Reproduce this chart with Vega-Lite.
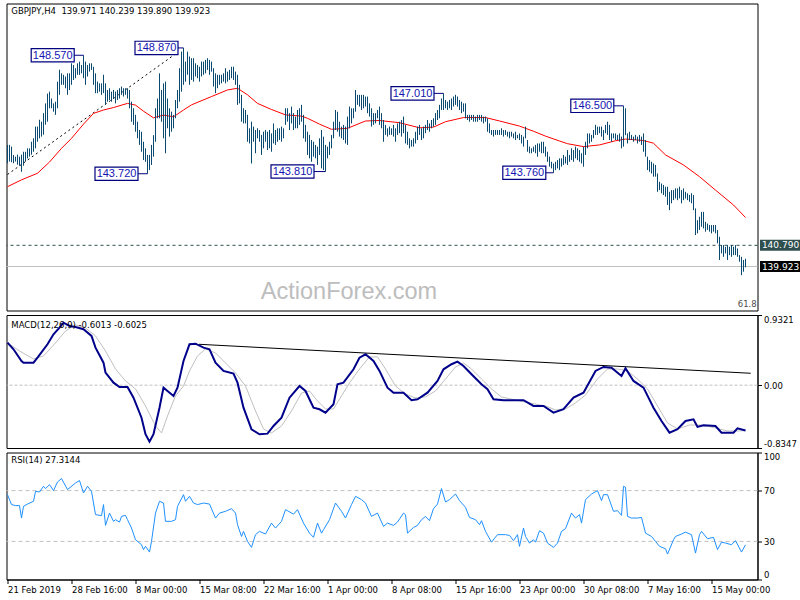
{
  "$schema": "https://vega.github.io/schema/vega-lite/v6.json",
  "padding": {"left": 2.5, "top": 2.5, "right": 0, "bottom": 0},
  "background": "white",
  "spacing": 4.5,
  "bounds": "flush",
  "config": {
    "view": {"stroke": "#000000", "strokeWidth": 1},
    "axis": {"labelFont": "DejaVu Sans", "labelFontSize": 8.5, "labelColor": "#000000", "domainColor": "#000000", "tickColor": "#000000", "tickSize": 4, "labelPadding": 2, "grid": false, "labelOverlap": false},
    "text": {"font": "DejaVu Sans"}
  },
  "datasets": {
    "bars": [
{"i":0,"h":144.90,"l":144.15},{"i":1,"h":144.90,"l":144.22},{"i":2,"h":144.83,"l":144.19},{"i":3,"h":144.49,"l":144.15},{"i":4,"h":144.42,"l":144.22},{"i":5,"h":144.50,"l":144.09},{"i":6,"h":144.42,"l":144.05},{"i":7,"h":144.50,"l":143.80},{"i":8,"h":144.62,"l":144.05},{"i":9,"h":144.62,"l":144.22},
{"i":10,"h":144.76,"l":144.35},{"i":11,"h":144.76,"l":144.42},{"i":12,"h":145.03,"l":144.50},{"i":13,"h":145.17,"l":144.62},{"i":14,"h":145.65,"l":144.76},{"i":15,"h":145.65,"l":145.03},{"i":16,"h":145.93,"l":145.17},{"i":17,"h":145.85,"l":145.24},{"i":18,"h":146.20,"l":145.32},{"i":19,"h":146.60,"l":145.73},
{"i":20,"h":147.00,"l":145.85},{"i":21,"h":147.08,"l":146.40},{"i":22,"h":146.80,"l":146.40},{"i":23,"h":146.60,"l":146.26},{"i":24,"h":146.67,"l":146.13},{"i":25,"h":147.49,"l":146.40},{"i":26,"h":147.98,"l":146.95},{"i":27,"h":147.83,"l":147.36},{"i":28,"h":147.77,"l":147.36},{"i":29,"h":147.70,"l":147.22},
{"i":30,"h":147.83,"l":146.95},{"i":31,"h":147.83,"l":147.15},{"i":32,"h":148.24,"l":147.36},{"i":33,"h":148.17,"l":147.56},{"i":34,"h":148.04,"l":147.63},{"i":35,"h":148.24,"l":147.77},{"i":36,"h":148.31,"l":147.77},{"i":37,"h":148.17,"l":147.83},{"i":38,"h":148.57,"l":147.63},{"i":39,"h":148.31,"l":147.36},
{"i":40,"h":148.17,"l":147.70},{"i":41,"h":148.24,"l":147.90},{"i":42,"h":148.24,"l":147.97},{"i":43,"h":148.10,"l":147.36},{"i":44,"h":147.83,"l":147.02},{"i":45,"h":147.49,"l":147.02},{"i":46,"h":147.42,"l":147.08},{"i":47,"h":147.42,"l":146.95},{"i":48,"h":147.77,"l":147.02},{"i":49,"h":147.42,"l":146.54},
{"i":50,"h":147.15,"l":146.67},{"i":51,"h":147.22,"l":146.74},{"i":52,"h":147.08,"l":146.67},{"i":53,"h":147.15,"l":146.80},{"i":54,"h":147.08,"l":146.60},{"i":55,"h":147.15,"l":146.74},{"i":56,"h":147.22,"l":146.80},{"i":57,"h":147.29,"l":146.95},{"i":58,"h":147.22,"l":146.88},{"i":59,"h":147.22,"l":146.95},
{"i":60,"h":147.22,"l":146.80},{"i":61,"h":147.15,"l":146.40},{"i":62,"h":146.67,"l":145.85},{"i":63,"h":146.40,"l":145.72},{"i":64,"h":146.13,"l":145.44},{"i":65,"h":145.85,"l":145.17},{"i":66,"h":145.51,"l":144.90},{"i":67,"h":145.44,"l":144.62},{"i":68,"h":145.03,"l":144.28},{"i":69,"h":144.76,"l":144.21},
{"i":70,"h":144.49,"l":143.72},{"i":71,"h":144.49,"l":143.87},{"i":72,"h":144.90,"l":144.08},{"i":73,"h":145.30,"l":144.42},{"i":74,"h":146.40,"l":145.03},{"i":75,"h":146.80,"l":145.99},{"i":76,"h":147.83,"l":145.99},{"i":77,"h":147.15,"l":145.85},{"i":78,"h":147.42,"l":145.17},{"i":79,"h":147.49,"l":144.56},
{"i":80,"h":146.80,"l":145.58},{"i":81,"h":146.40,"l":145.24},{"i":82,"h":146.26,"l":145.44},{"i":83,"h":146.13,"l":145.58},{"i":84,"h":146.74,"l":145.99},{"i":85,"h":147.15,"l":146.40},{"i":86,"h":148.04,"l":146.67},{"i":87,"h":148.72,"l":147.08},{"i":88,"h":148.87,"l":147.36},{"i":89,"h":148.31,"l":147.49},
{"i":90,"h":148.72,"l":147.77},{"i":91,"h":148.52,"l":147.36},{"i":92,"h":148.45,"l":147.56},{"i":93,"h":148.45,"l":147.49},{"i":94,"h":148.24,"l":147.70},{"i":95,"h":148.17,"l":147.63},{"i":96,"h":148.10,"l":147.49},{"i":97,"h":148.31,"l":147.70},{"i":98,"h":148.31,"l":147.77},{"i":99,"h":148.38,"l":147.83},
{"i":100,"h":148.45,"l":147.97},{"i":101,"h":148.38,"l":147.77},{"i":102,"h":148.31,"l":147.90},{"i":103,"h":148.04,"l":147.29},{"i":104,"h":147.83,"l":147.02},{"i":105,"h":147.77,"l":147.22},{"i":106,"h":147.77,"l":147.36},{"i":107,"h":147.77,"l":147.42},{"i":108,"h":147.83,"l":147.49},{"i":109,"h":148.04,"l":147.42},
{"i":110,"h":147.90,"l":147.49},{"i":111,"h":147.97,"l":147.56},{"i":112,"h":148.10,"l":147.63},{"i":113,"h":148.10,"l":147.56},{"i":114,"h":147.90,"l":147.36},{"i":115,"h":147.77,"l":146.54},{"i":116,"h":147.36,"l":146.60},{"i":117,"h":146.95,"l":145.85},{"i":118,"h":146.40,"l":145.78},{"i":119,"h":146.33,"l":145.78},
{"i":120,"h":146.13,"l":145.03},{"i":121,"h":145.58,"l":144.96},{"i":122,"h":145.85,"l":144.14},{"i":123,"h":145.65,"l":145.03},{"i":124,"h":145.51,"l":144.56},{"i":125,"h":145.58,"l":145.17},{"i":126,"h":145.51,"l":145.03},{"i":127,"h":145.31,"l":144.49},{"i":128,"h":145.44,"l":144.76},{"i":129,"h":145.51,"l":145.03},
{"i":130,"h":145.44,"l":144.69},{"i":131,"h":145.51,"l":144.76},{"i":132,"h":145.37,"l":144.62},{"i":133,"h":145.78,"l":144.96},{"i":134,"h":145.51,"l":144.90},{"i":135,"h":145.58,"l":145.03},{"i":136,"h":145.58,"l":145.10},{"i":137,"h":145.65,"l":145.03},{"i":138,"h":145.58,"l":145.17},{"i":139,"h":146.40,"l":145.72},
{"i":140,"h":146.40,"l":145.85},{"i":141,"h":146.20,"l":145.51},{"i":142,"h":146.47,"l":145.78},{"i":143,"h":146.20,"l":145.51},{"i":144,"h":146.06,"l":145.58},{"i":145,"h":146.33,"l":145.58},{"i":146,"h":146.40,"l":145.72},{"i":147,"h":146.54,"l":145.85},{"i":148,"h":146.13,"l":145.17},{"i":149,"h":145.72,"l":145.03},
{"i":150,"h":145.44,"l":144.49},{"i":151,"h":145.31,"l":144.35},{"i":152,"h":145.10,"l":144.21},{"i":153,"h":145.03,"l":144.42},{"i":154,"h":144.90,"l":144.35},{"i":155,"h":144.83,"l":144.08},{"i":156,"h":145.17,"l":144.49},{"i":157,"h":145.51,"l":143.94},{"i":158,"h":145.24,"l":143.87},{"i":159,"h":144.90,"l":143.81},
{"i":160,"h":144.83,"l":144.35},{"i":161,"h":145.03,"l":144.49},{"i":162,"h":145.31,"l":144.76},{"i":163,"h":145.85,"l":145.17},{"i":164,"h":146.33,"l":145.51},{"i":165,"h":146.26,"l":145.44},{"i":166,"h":145.85,"l":145.24},{"i":167,"h":145.65,"l":145.17},{"i":168,"h":145.72,"l":145.10},{"i":169,"h":145.65,"l":144.96},
{"i":170,"h":146.06,"l":144.90},{"i":171,"h":146.47,"l":145.58},{"i":172,"h":146.40,"l":145.78},{"i":173,"h":146.40,"l":145.99},{"i":174,"h":147.15,"l":146.26},{"i":175,"h":146.95,"l":146.54},{"i":176,"h":146.95,"l":146.47},{"i":177,"h":146.95,"l":146.33},{"i":178,"h":146.95,"l":146.40},{"i":179,"h":146.88,"l":146.47},
{"i":180,"h":146.88,"l":146.20},{"i":181,"h":146.60,"l":146.06},{"i":182,"h":146.40,"l":145.65},{"i":183,"h":146.20,"l":145.72},{"i":184,"h":146.20,"l":145.78},{"i":185,"h":146.33,"l":145.99},{"i":186,"h":146.47,"l":145.72},{"i":187,"h":146.20,"l":145.58},{"i":188,"h":145.92,"l":145.03},{"i":189,"h":145.72,"l":145.31},
{"i":190,"h":145.58,"l":145.24},{"i":191,"h":145.65,"l":145.31},{"i":192,"h":145.58,"l":145.31},{"i":193,"h":145.72,"l":145.24},{"i":194,"h":145.58,"l":145.03},{"i":195,"h":145.78,"l":145.31},{"i":196,"h":145.85,"l":145.38},{"i":197,"h":145.92,"l":145.24},{"i":198,"h":146.06,"l":145.38},{"i":199,"h":145.72,"l":144.96},
{"i":200,"h":145.44,"l":144.90},{"i":201,"h":145.17,"l":144.76},{"i":202,"h":145.10,"l":144.83},{"i":203,"h":145.17,"l":144.83},{"i":204,"h":145.44,"l":144.96},{"i":205,"h":145.65,"l":145.10},{"i":206,"h":145.72,"l":145.31},{"i":207,"h":145.58,"l":145.10},{"i":208,"h":145.65,"l":145.17},{"i":209,"h":145.72,"l":145.38},
{"i":210,"h":145.92,"l":145.51},{"i":211,"h":145.78,"l":145.44},{"i":212,"h":145.92,"l":145.58},{"i":213,"h":145.99,"l":145.65},{"i":214,"h":146.20,"l":145.72},{"i":215,"h":146.33,"l":145.92},{"i":216,"h":146.54,"l":145.99},{"i":217,"h":146.80,"l":146.33},{"i":218,"h":147.01,"l":146.33},{"i":219,"h":146.74,"l":146.40},
{"i":220,"h":146.67,"l":146.33},{"i":221,"h":146.74,"l":146.40},{"i":222,"h":146.80,"l":146.33},{"i":223,"h":146.88,"l":146.47},{"i":224,"h":146.95,"l":146.54},{"i":225,"h":146.88,"l":146.47},{"i":226,"h":146.74,"l":146.33},{"i":227,"h":146.67,"l":146.20},{"i":228,"h":146.60,"l":146.26},{"i":229,"h":146.60,"l":145.99},
{"i":230,"h":146.13,"l":145.92},{"i":231,"h":146.13,"l":145.85},{"i":232,"h":146.13,"l":145.92},{"i":233,"h":146.13,"l":145.85},{"i":234,"h":146.06,"l":145.85},{"i":235,"h":146.13,"l":145.85},{"i":236,"h":146.13,"l":145.92},{"i":237,"h":146.13,"l":145.85},{"i":238,"h":146.06,"l":145.78},{"i":239,"h":146.06,"l":145.85},
{"i":240,"h":145.99,"l":145.44},{"i":241,"h":145.78,"l":145.38},{"i":242,"h":145.51,"l":145.31},{"i":243,"h":145.51,"l":145.24},{"i":244,"h":145.51,"l":145.31},{"i":245,"h":145.51,"l":145.31},{"i":246,"h":145.51,"l":145.31},{"i":247,"h":145.58,"l":145.31},{"i":248,"h":145.51,"l":145.24},{"i":249,"h":145.51,"l":145.31},
{"i":250,"h":145.44,"l":145.24},{"i":251,"h":145.44,"l":145.17},{"i":252,"h":145.44,"l":145.24},{"i":253,"h":145.37,"l":145.17},{"i":254,"h":145.44,"l":145.10},{"i":255,"h":145.31,"l":145.17},{"i":256,"h":145.37,"l":145.10},{"i":257,"h":145.31,"l":144.96},{"i":258,"h":145.24,"l":144.83},{"i":259,"h":145.65,"l":145.17},
{"i":260,"h":145.10,"l":144.62},{"i":261,"h":144.83,"l":144.56},{"i":262,"h":144.76,"l":144.56},{"i":263,"h":144.83,"l":144.62},{"i":264,"h":144.90,"l":144.56},{"i":265,"h":144.96,"l":144.42},{"i":266,"h":144.96,"l":144.62},{"i":267,"h":145.03,"l":144.56},{"i":268,"h":145.03,"l":144.56},{"i":269,"h":144.83,"l":144.42},
{"i":270,"h":144.62,"l":144.21},{"i":271,"h":144.42,"l":144.01},{"i":272,"h":144.21,"l":143.94},{"i":273,"h":144.14,"l":143.76},{"i":274,"h":144.21,"l":143.87},{"i":275,"h":144.28,"l":143.94},{"i":276,"h":144.35,"l":143.87},{"i":277,"h":144.35,"l":144.01},{"i":278,"h":144.49,"l":144.08},{"i":279,"h":144.42,"l":144.14},
{"i":280,"h":144.69,"l":144.08},{"i":281,"h":144.49,"l":144.21},{"i":282,"h":144.76,"l":144.28},{"i":283,"h":144.69,"l":144.21},{"i":284,"h":144.83,"l":144.35},{"i":285,"h":144.76,"l":144.28},{"i":286,"h":144.69,"l":144.21},{"i":287,"h":144.56,"l":144.14},{"i":288,"h":144.83,"l":144.01},{"i":289,"h":145.03,"l":144.49},
{"i":290,"h":145.37,"l":144.76},{"i":291,"h":145.37,"l":144.96},{"i":292,"h":145.31,"l":145.03},{"i":293,"h":145.51,"l":145.17},{"i":294,"h":145.72,"l":145.31},{"i":295,"h":145.65,"l":145.31},{"i":296,"h":145.65,"l":145.38},{"i":297,"h":145.65,"l":145.24},{"i":298,"h":145.51,"l":145.10},{"i":299,"h":145.72,"l":145.38},
{"i":300,"h":145.85,"l":145.31},{"i":301,"h":145.72,"l":145.10},{"i":302,"h":145.37,"l":145.03},{"i":303,"h":145.37,"l":145.17},{"i":304,"h":145.37,"l":145.10},{"i":305,"h":145.31,"l":145.10},{"i":306,"h":145.37,"l":145.03},{"i":307,"h":145.24,"l":144.76},{"i":308,"h":146.50,"l":144.83},{"i":309,"h":146.40,"l":145.30},
{"i":310,"h":145.37,"l":144.96},{"i":311,"h":145.44,"l":145.10},{"i":312,"h":145.31,"l":145.10},{"i":313,"h":145.24,"l":145.03},{"i":314,"h":145.31,"l":145.10},{"i":315,"h":145.24,"l":144.96},{"i":316,"h":145.31,"l":145.03},{"i":317,"h":145.24,"l":144.90},{"i":318,"h":145.37,"l":144.62},{"i":319,"h":145.10,"l":144.42},
{"i":320,"h":144.42,"l":143.87},{"i":321,"h":144.28,"l":143.80},{"i":322,"h":144.21,"l":143.73},{"i":323,"h":144.14,"l":143.60},{"i":324,"h":144.08,"l":143.60},{"i":325,"h":143.73,"l":142.98},{"i":326,"h":143.39,"l":143.05},{"i":327,"h":143.32,"l":142.92},{"i":328,"h":143.26,"l":142.85},{"i":329,"h":143.19,"l":142.78},
{"i":330,"h":143.19,"l":142.44},{"i":331,"h":142.98,"l":142.23},{"i":332,"h":143.05,"l":142.51},{"i":333,"h":143.05,"l":142.64},{"i":334,"h":143.12,"l":142.71},{"i":335,"h":143.12,"l":142.64},{"i":336,"h":143.19,"l":142.71},{"i":337,"h":143.05,"l":142.51},{"i":338,"h":143.12,"l":142.64},{"i":339,"h":142.98,"l":142.71},
{"i":340,"h":142.92,"l":142.64},{"i":341,"h":142.85,"l":142.57},{"i":342,"h":142.92,"l":142.51},{"i":343,"h":142.85,"l":142.23},{"i":344,"h":142.30,"l":141.21},{"i":345,"h":141.82,"l":141.28},{"i":346,"h":141.96,"l":141.42},{"i":347,"h":142.16,"l":141.55},{"i":348,"h":142.16,"l":141.48},{"i":349,"h":141.75,"l":141.35},
{"i":350,"h":141.68,"l":141.42},{"i":351,"h":141.62,"l":141.35},{"i":352,"h":141.62,"l":141.28},{"i":353,"h":141.62,"l":141.35},{"i":354,"h":141.62,"l":141.28},{"i":355,"h":141.42,"l":140.87},{"i":356,"h":141.14,"l":140.19},{"i":357,"h":140.80,"l":140.46},{"i":358,"h":140.80,"l":140.32},{"i":359,"h":140.73,"l":140.46},
{"i":360,"h":140.80,"l":140.19},{"i":361,"h":140.73,"l":140.39},{"i":362,"h":140.80,"l":140.32},{"i":363,"h":140.73,"l":140.39},{"i":364,"h":140.80,"l":140.39},{"i":365,"h":140.66,"l":140.32},{"i":366,"h":140.39,"l":140.12},{"i":367,"h":140.32,"l":139.57},{"i":368,"h":140.19,"l":139.71},{"i":369,"h":140.24,"l":139.89}
    ],
    "ma": [
{"i":0,"p":143.19},{"i":7,"p":143.47},{"i":15,"p":143.74},{"i":21,"p":144.2},{"i":27,"p":144.76},{"i":32,"p":145.17},{"i":38,"p":145.75},{"i":43,"p":146.19},{"i":48,"p":146.33},{"i":53,"p":146.43},{"i":60,"p":146.6},{"i":64,"p":146.53},{"i":68,"p":146.28},{"i":73,"p":146.01},{"i":78,"p":146.12},{"i":83,"p":146.05},{"i":88,"p":146.33},{"i":92,"p":146.54},{"i":102,"p":146.88},{"i":110,"p":147.15},{"i":115,"p":147.22},{"i":120,"p":146.95},{"i":125,"p":146.6},{"i":132,"p":146.35},{"i":139,"p":146.13},{"i":147,"p":146.08},{"i":150,"p":145.99},{"i":156,"p":145.75},{"i":162,"p":145.54},{"i":170,"p":145.58},{"i":179,"p":145.88},{"i":186,"p":145.9},{"i":196,"p":145.81},{"i":206,"p":145.6},{"i":213,"p":145.63},{"i":219,"p":145.85},{"i":228,"p":146.02},{"i":239,"p":146.02},{"i":246,"p":145.88},{"i":256,"p":145.67},{"i":263,"p":145.46},{"i":269,"p":145.26},{"i":276,"p":145.06},{"i":280,"p":144.95},{"i":288,"p":144.83},{"i":296,"p":144.9},{"i":304,"p":145.07},{"i":309,"p":145.14},{"i":318,"p":145.08},{"i":323,"p":144.97},{"i":329,"p":144.49},{"i":338,"p":144.08},{"i":346,"p":143.6},{"i":354,"p":143.05},{"i":363,"p":142.44},{"i":369,"p":141.93}
    ],
    "macd": [
{"i":0,"v":0.565},{"i":3,"v":0.477},{"i":7,"v":0.321},{"i":8,"v":0.299},{"i":13,"v":0.299},{"i":15,"v":0.365},{"i":20,"v":0.543},{"i":23,"v":0.676},{"i":26,"v":0.764},{"i":28,"v":0.83},{"i":31,"v":0.786},{"i":34,"v":0.773},{"i":38,"v":0.743},{"i":42,"v":0.654},{"i":44,"v":0.498},{"i":48,"v":0.299},{"i":49,"v":0.166},{"i":53,"v":0.033},{"i":56,"v":-0.024},{"i":60,"v":-0.024},{"i":63,"v":-0.166},{"i":67,"v":-0.432},{"i":69,"v":-0.652},{"i":71,"v":-0.751},{"i":73,"v":-0.652},{"i":76,"v":-0.299},{"i":78,"v":-0.033},{"i":80,"v":-0.077},{"i":83,"v":-0.143},{"i":85,"v":-0.033},{"i":88,"v":0.321},{"i":91,"v":0.543},{"i":94,"v":0.551},{"i":98,"v":0.498},{"i":101,"v":0.477},{"i":104,"v":0.299},{"i":108,"v":0.189},{"i":113,"v":0.153},{"i":115,"v":0.033},{"i":118,"v":-0.299},{"i":122,"v":-0.586},{"i":126,"v":-0.652},{"i":130,"v":-0.644},{"i":133,"v":-0.542},{"i":137,"v":-0.432},{"i":141,"v":-0.166},{"i":146,"v":-0.011},{"i":149,"v":-0.077},{"i":153,"v":-0.299},{"i":156,"v":-0.32},{"i":159,"v":-0.365},{"i":163,"v":-0.254},{"i":165,"v":0.012},{"i":168,"v":0.033},{"i":173,"v":0.211},{"i":176,"v":0.365},{"i":179,"v":0.41},{"i":183,"v":0.321},{"i":186,"v":0.189},{"i":190,"v":-0.033},{"i":193,"v":-0.1},{"i":198,"v":-0.1},{"i":202,"v":-0.2},{"i":205,"v":-0.187},{"i":210,"v":-0.1},{"i":215,"v":0.056},{"i":218,"v":0.211},{"i":222,"v":0.278},{"i":225,"v":0.312},{"i":228,"v":0.255},{"i":232,"v":0.145},{"i":237,"v":0.012},{"i":240,"v":-0.054},{"i":243,"v":-0.187},{"i":248,"v":-0.2},{"i":258,"v":-0.2},{"i":263,"v":-0.276},{"i":268,"v":-0.276},{"i":273,"v":-0.365},{"i":278,"v":-0.32},{"i":283,"v":-0.166},{"i":288,"v":-0.1},{"i":294,"v":0.189},{"i":298,"v":0.242},{"i":302,"v":0.232},{"i":307,"v":0.122},{"i":309,"v":0.224},{"i":313,"v":0.056},{"i":318,"v":-0.033},{"i":323,"v":-0.299},{"i":327,"v":-0.476},{"i":331,"v":-0.631},{"i":335,"v":-0.586},{"i":339,"v":-0.476},{"i":343,"v":-0.453},{"i":345,"v":-0.555},{"i":348,"v":-0.533},{"i":354,"v":-0.542},{"i":357,"v":-0.631},{"i":363,"v":-0.631},{"i":365,"v":-0.573},{"i":369,"v":-0.6013}
    ],
    "sig": [
{"i":0,"v":0.561},{"i":6,"v":0.454},{"i":13,"v":0.348},{"i":18,"v":0.388},{"i":24,"v":0.561},{"i":29,"v":0.72},{"i":34,"v":0.8},{"i":39,"v":0.76},{"i":44,"v":0.654},{"i":49,"v":0.454},{"i":54,"v":0.215},{"i":59,"v":0.056},{"i":64,"v":-0.05},{"i":69,"v":-0.276},{"i":74,"v":-0.542},{"i":77,"v":-0.635},{"i":80,"v":-0.409},{"i":84,"v":-0.143},{"i":88,"v":-0.011},{"i":91,"v":0.189},{"i":95,"v":0.388},{"i":99,"v":0.481},{"i":104,"v":0.428},{"i":109,"v":0.295},{"i":114,"v":0.162},{"i":119,"v":-0.011},{"i":124,"v":-0.343},{"i":128,"v":-0.582},{"i":132,"v":-0.635},{"i":137,"v":-0.542},{"i":142,"v":-0.343},{"i":147,"v":-0.104},{"i":151,"v":-0.077},{"i":155,"v":-0.21},{"i":159,"v":-0.316},{"i":163,"v":-0.316},{"i":167,"v":-0.143},{"i":171,"v":0.029},{"i":176,"v":0.215},{"i":181,"v":0.375},{"i":185,"v":0.375},{"i":189,"v":0.215},{"i":194,"v":-0.011},{"i":199,"v":-0.117},{"i":204,"v":-0.17},{"i":209,"v":-0.157},{"i":214,"v":-0.077},{"i":219,"v":0.082},{"i":224,"v":0.242},{"i":228,"v":0.295},{"i":232,"v":0.215},{"i":237,"v":0.082},{"i":242,"v":-0.05},{"i":247,"v":-0.157},{"i":254,"v":-0.197},{"i":261,"v":-0.236},{"i":269,"v":-0.276},{"i":274,"v":-0.329},{"i":279,"v":-0.316},{"i":284,"v":-0.236},{"i":289,"v":-0.13},{"i":295,"v":0.082},{"i":300,"v":0.215},{"i":305,"v":0.215},{"i":310,"v":0.189},{"i":315,"v":0.082},{"i":320,"v":-0.05},{"i":325,"v":-0.276},{"i":330,"v":-0.502},{"i":335,"v":-0.582},{"i":341,"v":-0.529},{"i":347,"v":-0.529},{"i":354,"v":-0.569},{"i":360,"v":-0.608},{"i":366,"v":-0.608},{"i":369,"v":-0.6025}
    ],
    "rsi": [
{"i":0,"v":66.8},{"i":2,"v":59},{"i":4,"v":58.2},{"i":6,"v":58.2},{"i":7,"v":48.4},{"i":8,"v":57.6},{"i":10,"v":59.4},{"i":13,"v":61.6},{"i":14,"v":69.4},{"i":16,"v":68.9},{"i":18,"v":73.4},{"i":19,"v":71.6},{"i":21,"v":74.7},{"i":23,"v":70},{"i":25,"v":76.8},{"i":27,"v":79.5},{"i":30,"v":70.8},{"i":34,"v":76},{"i":36,"v":77.9},{"i":38,"v":68.1},{"i":40,"v":73.4},{"i":42,"v":69.4},{"i":44,"v":51.1},{"i":47,"v":50.3},{"i":48,"v":59},{"i":49,"v":42.6},{"i":51,"v":52.3},{"i":53,"v":45.8},{"i":54,"v":47.1},{"i":56,"v":45.2},{"i":57,"v":49.7},{"i":59,"v":50.5},{"i":60,"v":47.1},{"i":62,"v":40.5},{"i":64,"v":31.3},{"i":67,"v":27.4},{"i":68,"v":23.5},{"i":69,"v":26.1},{"i":71,"v":21.6},{"i":72,"v":30},{"i":74,"v":52.3},{"i":76,"v":61.6},{"i":78,"v":60.2},{"i":79,"v":45.8},{"i":82,"v":45.8},{"i":84,"v":47.1},{"i":85,"v":57.6},{"i":88,"v":66.8},{"i":89,"v":61.6},{"i":91,"v":65.5},{"i":93,"v":60.2},{"i":95,"v":59},{"i":98,"v":60.2},{"i":101,"v":59.4},{"i":104,"v":48.4},{"i":106,"v":52.3},{"i":109,"v":53.7},{"i":112,"v":55.8},{"i":114,"v":52.3},{"i":115,"v":43.2},{"i":117,"v":33.9},{"i":118,"v":37.9},{"i":120,"v":30},{"i":122,"v":25.3},{"i":124,"v":35.3},{"i":126,"v":37.9},{"i":129,"v":35.8},{"i":132,"v":44.4},{"i":134,"v":40.5},{"i":137,"v":45.8},{"i":139,"v":55},{"i":143,"v":51.5},{"i":145,"v":55},{"i":148,"v":44.4},{"i":151,"v":36.5},{"i":153,"v":33.2},{"i":155,"v":44.4},{"i":157,"v":36.5},{"i":158,"v":39.2},{"i":161,"v":47.1},{"i":164,"v":60.2},{"i":167,"v":53.7},{"i":169,"v":48.4},{"i":172,"v":59},{"i":174,"v":65.5},{"i":177,"v":62.9},{"i":179,"v":60.2},{"i":182,"v":49.7},{"i":185,"v":52.3},{"i":188,"v":41.8},{"i":190,"v":44.4},{"i":193,"v":42.6},{"i":195,"v":45.2},{"i":198,"v":52.3},{"i":199,"v":51},{"i":200,"v":36.5},{"i":203,"v":41},{"i":205,"v":42.6},{"i":207,"v":47.1},{"i":209,"v":49.7},{"i":211,"v":46.3},{"i":213,"v":55.8},{"i":215,"v":59.4},{"i":217,"v":71.6},{"i":219,"v":61},{"i":221,"v":62.9},{"i":224,"v":67.3},{"i":226,"v":62.1},{"i":229,"v":56.8},{"i":231,"v":48.9},{"i":234,"v":47.1},{"i":236,"v":43.2},{"i":237,"v":46.3},{"i":239,"v":37.9},{"i":242,"v":29.4},{"i":245,"v":35.3},{"i":249,"v":35.3},{"i":251,"v":34.7},{"i":253,"v":30.6},{"i":255,"v":35.3},{"i":256,"v":26.1},{"i":258,"v":40.5},{"i":259,"v":33.9},{"i":261,"v":28.7},{"i":263,"v":31.3},{"i":264,"v":29.4},{"i":266,"v":38.4},{"i":268,"v":36.5},{"i":270,"v":28.7},{"i":273,"v":25.3},{"i":275,"v":28.7},{"i":277,"v":37.9},{"i":279,"v":40},{"i":282,"v":52.3},{"i":284,"v":48.4},{"i":286,"v":51.1},{"i":287,"v":44.4},{"i":289,"v":62.9},{"i":292,"v":67.3},{"i":295,"v":70},{"i":297,"v":62.1},{"i":298,"v":66.8},{"i":300,"v":66.8},{"i":303,"v":53.7},{"i":305,"v":54.2},{"i":307,"v":50.5},{"i":308,"v":73.4},{"i":309,"v":72.6},{"i":310,"v":49.7},{"i":312,"v":48.4},{"i":315,"v":48.4},{"i":317,"v":48.9},{"i":319,"v":36.5},{"i":322,"v":33.9},{"i":324,"v":30},{"i":326,"v":26.1},{"i":329,"v":24.2},{"i":330,"v":20},{"i":333,"v":31.3},{"i":334,"v":33.9},{"i":337,"v":35.8},{"i":339,"v":37.3},{"i":342,"v":35.3},{"i":344,"v":20.8},{"i":346,"v":35.3},{"i":347,"v":37.9},{"i":350,"v":32.1},{"i":353,"v":33.2},{"i":355,"v":23.5},{"i":357,"v":29.4},{"i":359,"v":28.7},{"i":362,"v":27.4},{"i":364,"v":30.6},{"i":367,"v":21.6},{"i":369,"v":27.3144}
    ],
    "notes": [
{"i":22.6,"p":148.57,"b":38,"t":"148.570"},{"i":74.5,"p":148.87,"b":88,"t":"148.870"},{"i":54.5,"p":143.72,"b":70,"t":"143.720"},{"i":142.5,"p":143.81,"b":159,"t":"143.810"},{"i":202.5,"p":147.01,"b":218,"t":"147.010"},{"i":258.4,"p":143.76,"b":273,"t":"143.760"},{"i":292.4,"p":146.5,"b":308,"t":"146.500"}
    ],
    "tags": [{"p":140.79,"t":"140.790","k":"level"},{"p":139.923,"t":"139.923","k":"bid"}],
    "trend1": [{"i":0,"p":143.69},{"i":85.25,"p":148.7}],
    "trend2": [{"i":95.75,"v":0.543},{"i":371.6,"v":0.158}]
  },
  "vconcat": [
    {
      "width": 751,
      "height": 307,
      "layer": [
        {
          "data": {"values": [{"t": "ActionForex.com"}]},
          "mark": {"type": "text", "font": "Liberation Sans", "fontSize": 23.5, "color": "#BDBDBD", "align": "center", "baseline": "alphabetic"},
          "encoding": {
            "x": {"datum": 170.75, "type": "quantitative", "scale": {"domain": [-0.5, 375], "nice": false, "zero": false}, "axis": null},
            "y": {"datum": 138.59, "type": "quantitative", "scale": {"domain": [138.122, 150.689], "nice": false, "zero": false}, "axis": null},
            "text": {"field": "t"}
          }
        },
        {
          "data": {"values": [{"t": "61.8"}]},
          "mark": {"type": "text", "fontSize": 8.5, "color": "#4D4D4D", "align": "right", "baseline": "middle"},
          "encoding": {
            "x": {"datum": 374.6, "type": "quantitative", "axis": null},
            "y": {"datum": 138.4, "type": "quantitative", "axis": null},
            "text": {"field": "t"}
          }
        },
        {
          "data": {"values": [{"p": 140.79}]},
          "mark": {"type": "rule", "color": "#2F4F4F", "strokeDash": [3, 3], "strokeWidth": 1},
          "encoding": {"y": {"field": "p", "type": "quantitative", "axis": null}}
        },
        {
          "data": {"values": [{"p": 139.923}]},
          "mark": {"type": "rule", "color": "#C0C0C0", "strokeWidth": 1},
          "encoding": {"y": {"field": "p", "type": "quantitative", "axis": null}}
        },
        {
          "data": {"name": "trend1"},
          "mark": {"type": "line", "color": "#000000", "strokeWidth": 1, "strokeDash": [2, 3]},
          "encoding": {
            "x": {"field": "i", "type": "quantitative", "axis": null},
            "y": {"field": "p", "type": "quantitative", "axis": null}
          }
        },
        {
          "data": {"name": "ma"},
          "mark": {"type": "line", "color": "#FF0000", "strokeWidth": 1},
          "encoding": {
            "x": {"field": "i", "type": "quantitative", "axis": null},
            "y": {"field": "p", "type": "quantitative", "axis": null}
          }
        },
        {
          "data": {"name": "bars"},
          "mark": {"type": "rule", "color": "#0B4A70", "strokeWidth": 1},
          "encoding": {
            "x": {"field": "i", "type": "quantitative", "scale": {"domain": [-0.5, 375], "nice": false, "zero": false}, "axis": null},
            "y": {"field": "l", "type": "quantitative", "scale": {"domain": [138.122, 150.689], "nice": false, "zero": false},
                  "axis": {"orient": "right", "values": [150.3, 148.94, 147.58, 146.26, 144.9, 143.54, 142.18, 139.46, 138.1], "format": ".3f", "title": null, "labelFlush": false}},
            "y2": {"field": "h"}
          }
        },
        {
          "data": {"name": "notes"},
          "mark": {"type": "rule", "color": "#000080", "strokeWidth": 1},
          "encoding": {
            "x": {"field": "i", "type": "quantitative", "axis": null},
            "x2": {"field": "b"},
            "y": {"field": "p", "type": "quantitative", "axis": null}
          }
        },
        {
          "data": {"name": "notes"},
          "mark": {"type": "point", "shape": "M-1,-0.31H1V0.31H-1Z", "size": 1849, "filled": true, "fill": "#FFFFFF", "stroke": "#000080", "strokeWidth": 1.2, "opacity": 1, "fillOpacity": 1, "strokeOpacity": 1},
          "encoding": {
            "x": {"field": "i", "type": "quantitative", "axis": null},
            "y": {"field": "p", "type": "quantitative", "axis": null}
          }
        },
        {
          "data": {"name": "notes"},
          "mark": {"type": "text", "font": "Liberation Sans", "fontSize": 11, "color": "#1414B4", "align": "center", "baseline": "middle", "dy": 0.5},
          "encoding": {
            "x": {"field": "i", "type": "quantitative", "axis": null},
            "y": {"field": "p", "type": "quantitative", "axis": null},
            "text": {"field": "t"}
          }
        },
        {
          "data": {"name": "tags"},
          "mark": {"type": "point", "shape": "M-1,-0.27H1V0.27H-1Z", "size": 1681, "filled": true, "opacity": 1, "fillOpacity": 1, "clip": false},
          "encoding": {
            "x": {"datum": 386.5, "type": "quantitative", "axis": null},
            "y": {"field": "p", "type": "quantitative", "axis": null},
            "color": {"field": "k", "type": "nominal", "scale": {"domain": ["level", "bid"], "range": ["#2F4F4F", "#000000"]}, "legend": null}
          }
        },
        {
          "data": {"name": "tags"},
          "mark": {"type": "text", "fontSize": 9, "color": "#FFFFFF", "align": "center", "baseline": "middle", "clip": false},
          "encoding": {
            "x": {"datum": 386.5, "type": "quantitative", "axis": null},
            "y": {"field": "p", "type": "quantitative", "axis": null},
            "text": {"field": "t"}
          }
        },
        {
          "data": {"values": [{"t": "GBPJPY,H4 \u00a0139.971 140.239 139.890 139.923"}]},
          "mark": {"type": "text", "fontSize": 8.5, "color": "#000000", "align": "left", "baseline": "middle"},
          "encoding": {
            "x": {"datum": 1.9, "type": "quantitative", "axis": null},
            "y": {"datum": 150.38, "type": "quantitative", "axis": null},
            "text": {"field": "t"}
          }
        }
      ]
    },
    {
      "width": 751,
      "height": 133,
      "layer": [
        {
          "data": {"values": [{"v": 0}]},
          "mark": {"type": "rule", "color": "#C0C0C0", "strokeDash": [3, 2], "strokeWidth": 1},
          "encoding": {"y": {"field": "v", "type": "quantitative", "scale": {"domain": [-0.8347, 0.9321], "nice": false, "zero": false},
            "axis": {"orient": "right", "values": [-0.8347, 0, 0.9321], "labelExpr": "datum.value == 0 ? '0.00' : (datum.value > 0 ? '0.9321' : '-0.8347')", "labelFlush": true, "title": null}}}
        },
        {
          "data": {"name": "trend2"},
          "mark": {"type": "line", "color": "#000000", "strokeWidth": 1},
          "encoding": {
            "x": {"field": "i", "type": "quantitative", "scale": {"domain": [-0.5, 375], "nice": false, "zero": false}, "axis": null},
            "y": {"field": "v", "type": "quantitative"}
          }
        },
        {
          "data": {"name": "sig"},
          "mark": {"type": "line", "color": "#C0C0C0", "strokeWidth": 1},
          "encoding": {
            "x": {"field": "i", "type": "quantitative", "axis": null},
            "y": {"field": "v", "type": "quantitative"}
          }
        },
        {
          "data": {"name": "macd"},
          "mark": {"type": "line", "color": "#00008B", "strokeWidth": 2},
          "encoding": {
            "x": {"field": "i", "type": "quantitative", "axis": null},
            "y": {"field": "v", "type": "quantitative"}
          }
        },
        {
          "data": {"values": [{"t": "MACD(12,26,9) -0.6013 -0.6025"}]},
          "mark": {"type": "text", "fontSize": 8.5, "color": "#000000", "align": "left", "baseline": "middle"},
          "encoding": {
            "x": {"datum": 1.9, "type": "quantitative", "axis": null},
            "y": {"datum": 0.805, "type": "quantitative"},
            "text": {"field": "t"}
          }
        }
      ]
    },
    {
      "width": 751,
      "height": 127,
      "layer": [
        {
          "data": {"values": [{"v": 70}, {"v": 30}]},
          "mark": {"type": "rule", "color": "#C0C0C0", "strokeDash": [4, 3], "strokeWidth": 1},
          "encoding": {"y": {"field": "v", "type": "quantitative", "scale": {"domain": [0, 100], "nice": false},
            "axis": {"orient": "right", "values": [0, 30, 70, 100], "format": "d", "labelFlush": true, "title": null}}}
        },
        {
          "data": {"name": "rsi"},
          "mark": {"type": "line", "color": "#1E90FF", "strokeWidth": 1},
          "encoding": {
            "x": {"field": "i", "type": "quantitative", "scale": {"domain": [-0.5, 375], "nice": false, "zero": false},
              "axis": {"orient": "bottom", "values": [0, 32, 64, 96, 128, 160, 192, 224, 256, 288, 320, 352],
                "labelExpr": "['21 Feb 2019','28 Feb 16:00','8 Mar 00:00','15 Mar 08:00','22 Mar 16:00','1 Apr 00:00','8 Apr 08:00','15 Apr 16:00','23 Apr 00:00','30 Apr 08:00','7 May 16:00','15 May 00:00'][round(datum.value/32)]",
                "labelAlign": "left", "labelFlush": false, "title": null, "labelPadding": 2}},
            "y": {"field": "v", "type": "quantitative"}
          }
        },
        {
          "data": {"values": [{"t": "RSI(14) 27.3144"}]},
          "mark": {"type": "text", "fontSize": 8.5, "color": "#000000", "align": "left", "baseline": "middle"},
          "encoding": {
            "x": {"datum": 1.9, "type": "quantitative"},
            "y": {"datum": 94.0, "type": "quantitative"},
            "text": {"field": "t"}
          }
        }
      ]
    }
  ]
}
